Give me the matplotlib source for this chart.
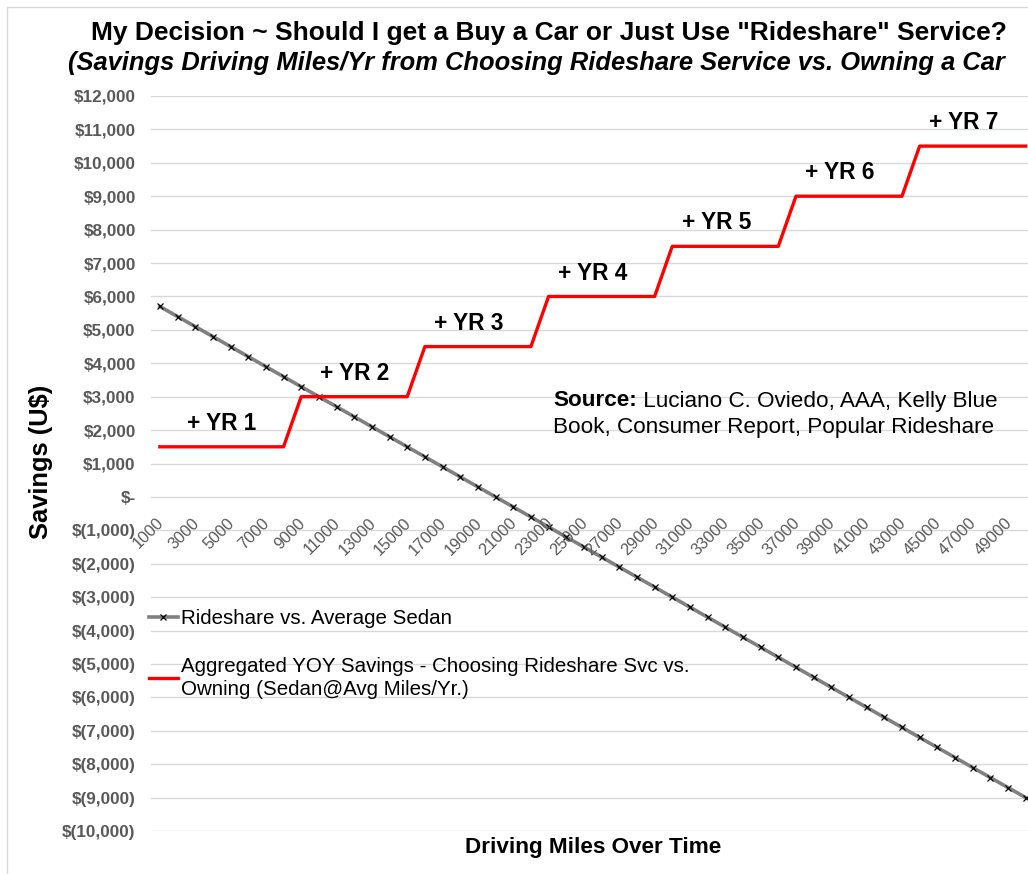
import matplotlib
matplotlib.use("Agg")
import matplotlib.pyplot as plt
from matplotlib.patches import Rectangle
from matplotlib.ticker import FuncFormatter

plt.rcParams['font.family'] = ['Liberation Sans', 'DejaVu Sans']

# driving miles (categories)
miles = [1000, 2000, 3000, 4000, 5000, 6000, 7000, 8000, 9000, 10000,
         11000, 12000, 13000, 14000, 15000, 16000, 17000, 18000, 19000, 20000,
         21000, 22000, 23000, 24000, 25000, 26000, 27000, 28000, 29000, 30000,
         31000, 32000, 33000, 34000, 35000, 36000, 37000, 38000, 39000, 40000,
         41000, 42000, 43000, 44000, 45000, 46000, 47000, 48000, 49000, 50000]

# Rideshare vs. Average Sedan
sedan = [5700, 5400, 5100, 4800, 4500, 4200, 3900, 3600, 3300, 3000,
         2700, 2400, 2100, 1800, 1500, 1200, 900, 600, 300, 0,
         -300, -600, -900, -1200, -1500, -1800, -2100, -2400, -2700, -3000,
         -3300, -3600, -3900, -4200, -4500, -4800, -5100, -5400, -5700, -6000,
         -6300, -6600, -6900, -7200, -7500, -7800, -8100, -8400, -8700, -9000]

# Aggregated YOY savings
aggregated = [1500, 1500, 1500, 1500, 1500, 1500, 1500, 1500,
              3000, 3000, 3000, 3000, 3000, 3000, 3000,
              4500, 4500, 4500, 4500, 4500, 4500, 4500,
              6000, 6000, 6000, 6000, 6000, 6000, 6000,
              7500, 7500, 7500, 7500, 7500, 7500, 7500,
              9000, 9000, 9000, 9000, 9000, 9000, 9000,
              10500, 10500, 10500, 10500, 10500, 10500, 10500]

year_labels = ["+ YR 1", "+ YR 2", "+ YR 3", "+ YR 4", "+ YR 5", "+ YR 6", "+ YR 7"]

W, H = 1028, 874
fig = plt.figure(figsize=(W / 100, H / 100), dpi=100)
ax = fig.add_axes([151 / W, 1 - 831 / H, 883.5 / W, 735 / H])

x = list(range(len(miles)))
ax.plot(x, sedan, color="#808080", lw=2.6, marker="x", ms=5, mec="black",
        mew=0.9, label="Rideshare vs. Average Sedan", zorder=3)
ax.plot(x, aggregated, color="#FF0000", lw=2.4,
        label="Aggregated YOY Savings - Choosing Rideshare Svc vs.\nOwning (Sedan@Avg Miles/Yr.)",
        zorder=4)

ax.set_xlim(-0.5, len(miles) - 0.5)
ax.set_ylim(-10000, 12000)
ax.set_yticks(range(-10000, 12001, 1000))
ax.grid(axis="y", color="#D9D9D9", lw=1)
ax.set_axisbelow(True)
for s in ax.spines.values():
    s.set_visible(False)


def money(v, pos):
    v = int(round(v))
    if v == 0:
        return "$-"
    if v < 0:
        return "$({:,})".format(-v)
    return "${:,}".format(v)


ax.yaxis.set_major_formatter(FuncFormatter(money))
ax.tick_params(axis="y", length=0, pad=11, labelsize=12.3, labelcolor="#595959")
for t in ax.get_yticklabels():
    t.set_fontweight("bold")

# category labels sit next to the zero line
ax.set_xticks([])
for i in range(0, len(miles), 2):
    ax.annotate(str(miles[i]), xy=(i, 0), xytext=(1, -17), textcoords="offset points",
                rotation=45, rotation_mode="anchor", ha="right", va="center",
                fontsize=11.8, color="#595959")

# year step labels
for k, lbl in enumerate(year_labels):
    level = sorted(set(aggregated))[k]
    idx = [i for i, v in enumerate(aggregated) if v == level]
    cx = sum(idx) / len(idx)
    if k > 1:
        cx -= 0.5
    ax.text(cx, level + 700, lbl, ha="center", va="center", fontsize=16.3,
            fontweight="bold", color="black")

leg = ax.legend(loc="upper left", bbox_to_anchor=(149 / W, 1 - 609 / H),
                bbox_transform=fig.transFigure, frameon=False, fontsize=14.8,
                handlelength=1.4, handletextpad=0.15, labelspacing=1.4,
                borderpad=0, borderaxespad=0)
leg.get_texts()[1].set_linespacing(1.3)

fig.text(549 / W, 1 - 33 / H,
         'My Decision ~ Should I get a Buy a Car or Just Use "Rideshare" Service?',
         ha="center", va="center", fontsize=19, fontweight="bold")
fig.text(536 / W, 1 - 63 / H,
         "(Savings Driving Miles/Yr from Choosing Rideshare Service vs. Owning a Car",
         ha="center", va="center", fontsize=18.4, fontweight="bold", style="italic")

fig.text(41 / W, 1 - 462 / H, "Savings (U$)", rotation=90, ha="center", va="center",
         fontsize=18.4, fontweight="bold")
fig.text(593 / W, 1 - 847 / H, "Driving Miles Over Time", ha="center", va="center",
         fontsize=16.2, fontweight="bold")

src = fig.text(553 / W, 1 - 401 / H, "Source:", ha="left", va="center",
               fontsize=16.2, fontweight="bold")
ax.annotate(" Luciano C. Oviedo, AAA, Kelly Blue", xy=(1, 0.5), xycoords=src,
            ha="left", va="center", fontsize=16.2)
fig.text(553 / W, 1 - 428 / H, "Book, Consumer Report, Popular Rideshare",
         ha="left", va="center", fontsize=16.2)

fig.patches.append(Rectangle((7 / W, -0.1), 1.2, 1.1 - 7 / H, transform=fig.transFigure,
                             fill=False, edgecolor="#D9D9D9", lw=1))

fig.savefig("out.png", dpi=100)
